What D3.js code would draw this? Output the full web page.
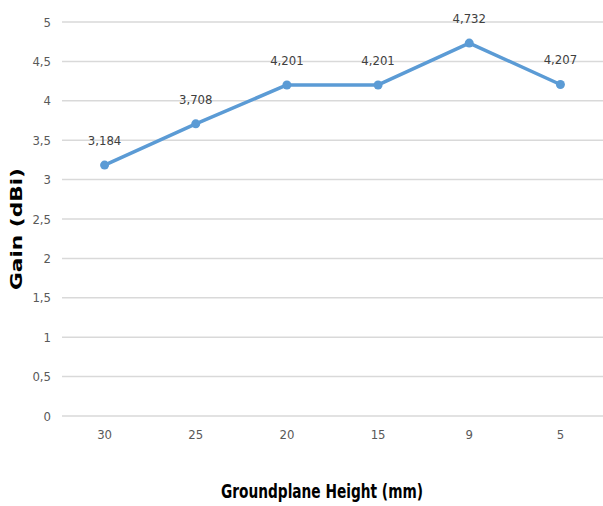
<!DOCTYPE html>
<html>
<head>
<meta charset="utf-8">
<script src="https://cdn.jsdelivr.net/npm/d3@7"></script>
<style>
  body { margin: 0; background: #fff; }
</style>
</head>
<body>
<svg id="chart" width="603" height="506"></svg>
<script>
// data
var heights = ["30", "25", "20", "15", "9", "5"];
var gains = [3.184, 3.708, 4.201, 4.201, 4.732, 4.207];
var gainLabels = ["3,184", "3,708", "4,201", "4,201", "4,732", "4,207"];
var yTicks = [0, 0.5, 1, 1.5, 2, 2.5, 3, 3.5, 4, 4.5, 5];

var svg = d3.select("#chart");

var xScale = d3.scaleBand()
  .domain(heights)
  .range([59, 606]);

var yScale = d3.scaleLinear()
  .domain([0, 5])
  .range([416, 22]);

var fmt = function(v) { return String(v).replace(".", ","); };

// gridlines
svg.append("g")
  .selectAll("line")
  .data(yTicks)
  .enter()
  .append("line")
    .attr("x1", 62)
    .attr("x2", 603)
    .attr("y1", d => yScale(d))
    .attr("y2", d => yScale(d))
    .attr("stroke", "#d9d9d9")
    .attr("stroke-width", 1.5);

// y axis labels
var yAxis = d3.axisLeft(yScale)
  .tickValues(yTicks)
  .tickFormat(fmt)
  .tickSize(0)
  .tickPadding(0);

svg.append("g")
  .attr("transform", "translate(51,0)")
  .call(yAxis)
  .call(g => g.select(".domain").remove())
  .selectAll("text")
    .attr("fill", "#595959")
    .style("font-family", "'DejaVu Sans Condensed', 'DejaVu Sans'")
    .style("font-size", "13px");

// x axis labels
var xAxis = d3.axisBottom(xScale)
  .tickSize(0)
  .tickPadding(0);

svg.append("g")
  .attr("transform", "translate(0,430)")
  .call(xAxis)
  .call(g => g.select(".domain").remove())
  .selectAll("text")
    .attr("fill", "#595959")
    .style("font-family", "'DejaVu Sans Condensed', 'DejaVu Sans'")
    .style("font-size", "13px");

var cx = d => xScale(d) + xScale.bandwidth() / 2;

// the line
var line = d3.line()
  .x((d, i) => cx(heights[i]))
  .y(d => yScale(d));

svg.append("path")
  .datum(gains)
  .attr("fill", "none")
  .attr("stroke", "#5b9bd5")
  .attr("stroke-width", 3.5)
  .attr("stroke-linejoin", "round")
  .attr("d", line);

svg.selectAll("circle.pt")
  .data(gains)
  .enter()
  .append("circle")
    .attr("class", "pt")
    .attr("cx", (d, i) => cx(heights[i]))
    .attr("cy", d => yScale(d))
    .attr("r", 4.5)
    .attr("fill", "#5b9bd5");

// value labels
svg.selectAll("text.val")
  .data(gains)
  .enter()
  .append("text")
    .attr("class", "val")
    .attr("x", (d, i) => cx(heights[i]))
    .attr("y", d => yScale(d) - 20)
    .attr("text-anchor", "middle")
    .attr("fill", "#404040")
    .style("font-family", "'DejaVu Sans Condensed', 'DejaVu Sans'")
    .style("font-size", "13px")
    .text((d, i) => gainLabels[i]);

// axis titles
svg.append("text")
  .attr("x", 322)
  .attr("y", 498)
  .attr("text-anchor", "middle")
  .attr("fill", "#000")
  .style("font-family", "'DejaVu Sans Condensed', 'DejaVu Sans'")
  .style("font-weight", "bold")
  .style("font-size", "20px")
  .attr("textLength", 202)
  .attr("lengthAdjust", "spacingAndGlyphs")
  .text("Groundplane Height (mm)");

svg.append("text")
  .attr("transform", "translate(22,229) rotate(-90)")
  .attr("text-anchor", "middle")
  .attr("fill", "#000")
  .style("font-family", "'DejaVu Sans'")
  .style("font-weight", "bold")
  .style("font-size", "15px")
  .attr("textLength", 122)
  .attr("lengthAdjust", "spacingAndGlyphs")
  .text("Gain (dBi)");
</script>
</body>
</html>
